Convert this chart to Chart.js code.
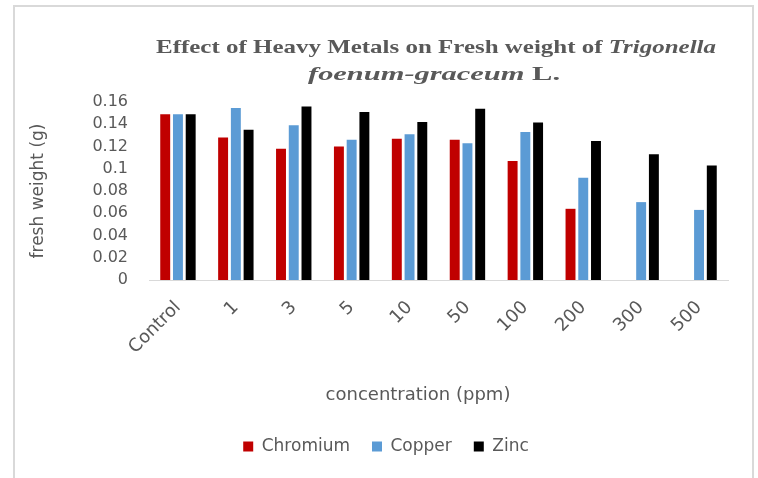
<!DOCTYPE html>
<html>
<head>
<meta charset="utf-8">
<script src="https://cdn.jsdelivr.net/npm/chart.js@4/dist/chart.umd.min.js"></script>
<style>
  html, body { margin: 0; padding: 0; background: #ffffff; }
  #wrap { width: 758px; height: 478px; }
</style>
</head>
<body>
<div id="wrap"><canvas id="c" width="758" height="478"></canvas></div>
<script>
const categories = ['Control', '1', '3', '5', '10', '50', '100', '200', '300', '500'];
const chromium = [0.149, 0.128, 0.118, 0.120, 0.127, 0.126, 0.107, 0.064, null, null];
const copper   = [0.149, 0.1545, 0.139, 0.126, 0.131, 0.123, 0.133, 0.092, 0.070, 0.063];
const zinc     = [0.149, 0.135, 0.156, 0.151, 0.142, 0.154, 0.1415, 0.125, 0.113, 0.103];
const yTickLabels = ['0', '0.02', '0.04', '0.06', '0.08', '0.1', '0.12', '0.14', '0.16'];
const seriesNames = ['Chromium', 'Copper', 'Zinc'];
const titleLine1 = [['Effect of Heavy Metals on Fresh weight of ', false], ['Trigonella', true]];
const titleLine2 = [['foenum-graceum', true], [' L.', false]];
const xTitle = 'concentration (ppm)';
const yTitle = 'fresh weight (g)';

const GRAY = '#595959';
const FONT = 'DejaVu Sans';

const framePlugin = {
  id: 'frame',
  beforeDraw(chart) {
    const ctx = chart.ctx;
    ctx.save();
    ctx.fillStyle = '#ffffff';
    ctx.fillRect(0, 0, chart.width, chart.height);
    ctx.strokeStyle = '#d9d9d9';
    ctx.lineWidth = 2;
    ctx.strokeRect(14, 6, 739, 500);
    ctx.restore();
  }
};

function fontFor(it, size) {
  return (it ? 'italic ' : '') + 'bold ' + size + 'px "Liberation Serif"';
}

function measureLine(ctx, parts, size) {
  return parts.map(([t, it]) => { ctx.font = fontFor(it, size); return ctx.measureText(t).width; });
}

function drawLine(ctx, parts, cx, y, size, targetWidth) {
  const widths = measureLine(ctx, parts, size);
  const total = widths.reduce((a, b) => a + b, 0);
  const sx = targetWidth / total;
  ctx.save();
  ctx.translate(cx, y);
  ctx.scale(sx, 1);
  let x = -total / 2;
  parts.forEach(([t, it], i) => {
    ctx.font = fontFor(it, size);
    ctx.fillText(t, x, 0);
    x += widths[i];
  });
  ctx.restore();
}

const textPlugin = {
  id: 'texts',
  afterDraw(chart) {
    const ctx = chart.ctx;
    ctx.save();
    ctx.fillStyle = GRAY;
    ctx.textBaseline = 'alphabetic';
    ctx.textAlign = 'left';
    drawLine(ctx, titleLine1, 436, 53, 19, 560);
    drawLine(ctx, titleLine2, 434, 80, 19, 252);
    ctx.font = '18px "' + FONT + '"';
    ctx.textAlign = 'center';
    ctx.textBaseline = 'middle';
    ctx.fillText(xTitle, 418, 395);
    ctx.restore();
  }
};

new Chart(document.getElementById('c'), {
  type: 'bar',
  data: {
    labels: categories,
    datasets: [
      { label: seriesNames[0], data: chromium, backgroundColor: '#C00000' },
      { label: seriesNames[1], data: copper, backgroundColor: '#5B9BD5' },
      { label: seriesNames[2], data: zinc, backgroundColor: '#000000' }
    ]
  },
  options: {
    responsive: false,
    animation: false,
    devicePixelRatio: 1,
    layout: { padding: { left: 14, right: 0, top: 102, bottom: 13 } },
    datasets: { bar: { categoryPercentage: 0.66, barPercentage: 0.78 } },
    plugins: {
      title: { display: false },
      tooltip: { enabled: false },
      legend: {
        position: 'bottom',
        labels: {
          boxWidth: 10, boxHeight: 10, padding: 22,
          color: GRAY,
          font: { family: FONT, size: 17 }
        }
      }
    },
    scales: {
      x: {
        grid: { display: false, drawTicks: false },
        border: { display: true, color: '#d9d9d9', width: 1 },
        ticks: {
          color: GRAY, font: { family: FONT, size: 18 },
          minRotation: 45, maxRotation: 45, padding: 17, autoSkip: false
        },
        afterFit: s => { s.height = 136; }
      },
      y: {
        min: 0, max: 0.16,
        grid: { display: false, drawTicks: false },
        border: { display: false },
        ticks: {
          stepSize: 0.02, color: GRAY, font: { family: FONT, size: 16 }, padding: 21,
          autoSkip: false,
          callback: (v, i) => yTickLabels[i]
        },
        title: {
          display: true, text: yTitle, color: GRAY,
          font: { family: FONT, size: 17 }, padding: { top: 14, bottom: 0 }
        },
        afterFit: s => { s.width = 135; }
      },
      yR: {
        position: 'right', display: true, min: 0, max: 1,
        grid: { display: false, drawTicks: false },
        border: { display: false },
        ticks: { display: false },
        afterFit: s => { s.width = 30; }
      }
    }
  },
  plugins: [framePlugin, textPlugin]
});
</script>
</body>
</html>
